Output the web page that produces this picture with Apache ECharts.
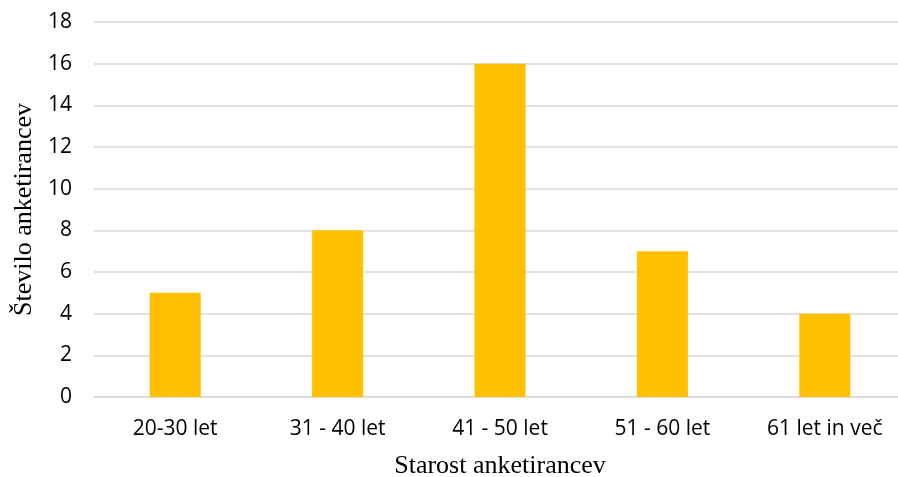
<!DOCTYPE html>
<html>
<head>
<meta charset="utf-8">
<script src="https://cdn.jsdelivr.net/npm/echarts@6/dist/echarts.min.js"></script>
<style>html,body{margin:0;padding:0;background:#fff}#c{width:898px;height:477px}</style>
</head>
<body>
<div id="c"></div>
<script>
const categories = ['20-30 let', '31 - 40 let', '41 - 50 let', '51 - 60 let', '61 let in več'];
const values = [5, 8, 16, 7, 4];
const yTicks = [0, 2, 4, 6, 8, 10, 12, 14, 16, 18];

const chart = echarts.init(document.getElementById('c'));
chart.setOption({
  animation: false,
  grid: { left: 94, right: -8, top: 22, bottom: 80, containLabel: false, outerBoundsMode: 'none' },
  xAxis: {
    type: 'category',
    data: categories,
    name: 'Starost anketirancev',
    nameLocation: 'middle',
    nameGap: 56,
    nameTextStyle: { fontFamily: 'Liberation Serif', fontSize: 26, color: '#000' },
    axisLine: { lineStyle: { color: '#d9d9d9', width: 1.5 } },
    axisTick: { show: false },
    axisLabel: { fontFamily: 'Open Sans', fontSize: 21, color: '#000', margin: 22 }
  },
  yAxis: {
    type: 'value',
    min: 0, max: 18, interval: 2,
    name: 'Število anketirancev',
    nameLocation: 'middle',
    nameGap: 57,
    nameTextStyle: { fontFamily: 'Liberation Serif', fontSize: 26, color: '#000' },
    axisLine: { show: false },
    axisTick: { show: false },
    splitLine: { lineStyle: { color: '#d9d9d9', width: 1.5 } },
    axisLabel: { fontFamily: 'Open Sans', fontSize: 21, color: '#000', margin: 22,
      formatter: v => yTicks.includes(v) ? String(v) : '' }
  },
  series: [{
    type: 'bar',
    data: values,
    barWidth: 51,
    itemStyle: { color: '#FFC000' }
  }]
});
</script>
</body>
</html>
